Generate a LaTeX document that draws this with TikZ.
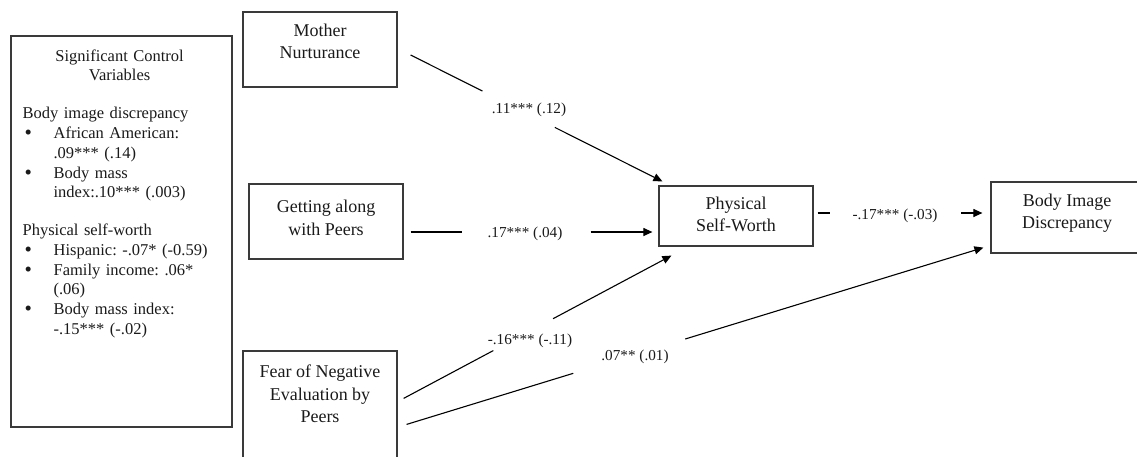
\documentclass[tikz,border=0pt]{standalone}
\usepackage{fontspec}
\setmainfont{Liberation Serif}
\usetikzlibrary{arrows.meta,calc}
\definecolor{boxc}{HTML}{3A3A3A}
\definecolor{txtc}{HTML}{1A1A1A}
\newcommand\ctrlbullet{\raisebox{-1pt}{\fontsize{21}{0}\selectfont\textbullet}}
\newcommand\ctrlitem[1]{\par\hangindent=31pt\hangafter=1\noindent\makebox[31pt][l]{\hspace{2pt}\ctrlbullet}#1\par}
\begin{document}
\frenchspacing
\begin{tikzpicture}[x=1pt,y=-1pt,
  box/.style={draw=boxc, line width=1.2pt, inner sep=0pt},
  lbl/.style={align=center, font=\fontsize{18}{22.5}\selectfont, text=txtc},
  coef/.style={font=\fontsize{15.2}{18}\selectfont, text=txtc, inner sep=0pt},
  conn/.style={line width=1.1pt, draw=black},
  arr/.style={conn, -{Triangle[length=9pt,width=8pt]}},
]
\useasboundingbox (0,0) rectangle (1137,456);

% boxes
\node[box, minimum width=221pt, minimum height=391pt] (ctrl) at (121.5,231.5) {};
\node[anchor=north west, inner sep=0pt, text width=194pt, text=txtc,
      font=\fontsize{16.5}{19.7}\selectfont] (ctrltxt) at ($(ctrl.north west)+(12,14)$) {%
  \frenchspacing
  {\centering Significant Control\\Variables\par}
  \raggedright\vspace{18.3pt}
  Body image discrepancy\par
  \ctrlitem{African American:\newline .09*** (.14)}
  \ctrlitem{Body mass\newline index:.10*** (.003)}
  \vspace{18.3pt}
  Physical self-worth\par
  \ctrlitem{Hispanic: -.07* (-0.59)}
  \ctrlitem{Family income: .06*\newline (.06)}
  \ctrlitem{Body mass index:\newline -.15*** (-.02)}
};

\node[box, minimum width=154pt, minimum height=75pt,
      label={[lbl,yshift=8pt]center:{Mother\\Nurturance}}] (mn) at (320,49.5) {};
\node[box, minimum width=154pt, minimum height=75pt,
      label={[lbl,yshift=3.5pt]center:{Getting along\\with Peers}}] (ga) at (326,221.5) {};
\node[box, minimum width=154pt, minimum height=119pt,
      label={[lbl,yshift=16.5pt]center:{Fear of Negative\\Evaluation by\\Peers}}] (fe) at (320,410.5) {};
\node[box, minimum width=154pt, minimum height=60pt,
      label={[lbl,yshift=1.5pt]center:{Physical\\Self-Worth}}] (psw) at (736,216) {};
\node[box, minimum width=152pt, minimum height=71pt,
      label={[lbl,yshift=4.5pt]center:{Body Image\\Discrepancy}}] (bid) at (1067,217.5) {};

% connectors
\coordinate (s1) at ($(mn.east)+(13,5.5)$);
\coordinate (e1) at ($(psw.north west)+(4,-4)$);
\draw[conn] (s1) -- ($(s1)!0.285!(e1)$);
\draw[arr] ($(s1)!0.573!(e1)$) -- (e1);
\node[coef] (c1) at (529,110) {.11*** (.12)};

\coordinate (s2) at ($(ga.east)+(7,10.5)$);
\coordinate (e2) at ($(psw.west)+(-6,16)$);
\draw[conn] (s2) -- ($(s2)!0.214!(e2)$);
\draw[arr] ($(s2)!0.745!(e2)$) -- (e2);
\node[coef] (c2) at (525,234) {.17*** (.04)};

\coordinate (s3) at ($(fe.north east)+(6,48)$);
\coordinate (e3) at ($(psw.south west)+(13,9)$);
\draw[conn] (s3) -- ($(s3)!0.335!(e3)$);
\draw[arr] ($(s3)!0.558!(e3)$) -- (e3);
\node[coef] (c3) at (530,341) {-.16*** (-.11)};

\coordinate (s4) at ($(fe.north east)+(9,74)$);
\coordinate (e4) at ($(bid.south west)+(-7,-6)$);
\draw[conn] (s4) -- ($(s4)!0.289!(e4)$);
\draw[arr] ($(s4)!0.483!(e4)$) -- (e4);
\node[coef] (c4) at (635,357) {.07** (.01)};

\coordinate (s5) at ($(psw.east)+(4,-3)$);
\coordinate (e5) at ($(bid.west)+(-8,-4.5)$);
\draw[conn] (s5) -- ($(s5)!0.078!(e5)$);
\draw[arr] ($(s5)!0.873!(e5)$) -- (e5);
\node[coef] (c5) at (895,216) {-.17*** (-.03)};
\end{tikzpicture}
\end{document}
